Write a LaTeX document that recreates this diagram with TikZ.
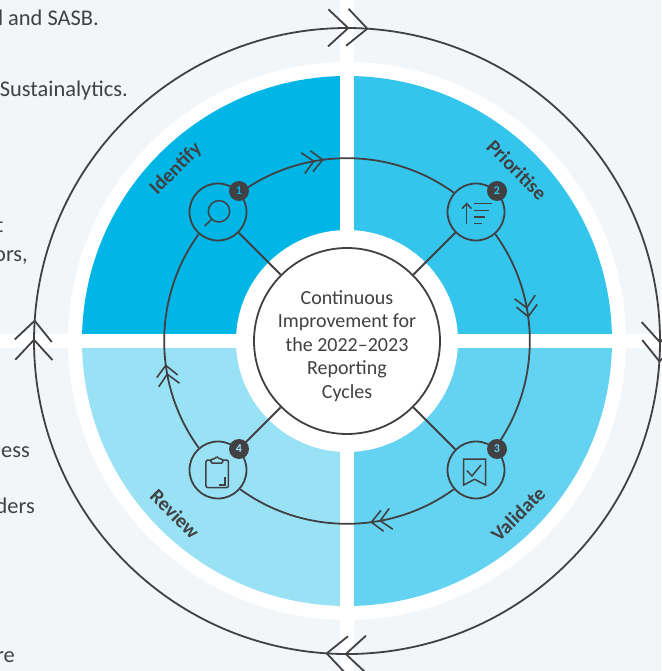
\documentclass[tikz,border=0pt]{standalone}
\usepackage{fontspec}
\setmainfont{Carlito}
\usetikzlibrary{arrows.meta,decorations.markings}

\definecolor{pagebg}{HTML}{F2F6F9}
\definecolor{inkgrey}{HTML}{414042}
\definecolor{identifyblue}{HTML}{00B6E6}
\definecolor{prioritiseblue}{HTML}{33C5EC}
\definecolor{validateblue}{HTML}{63D3F1}
\definecolor{reviewblue}{HTML}{99E2F6}

\tikzset{
  smallchevron/.tip={Straight Barb[length=11pt,width=21pt]},
  bigchevron/.tip={Straight Barb[length=20pt,width=37pt]},
  ringline/.style={draw=inkgrey,line width=1.8pt},
  iconline/.style={draw=inkgrey,line width=1.5pt},
  ringarrows/.style={postaction={decorate},decoration={markings,
      mark=at position 0.359 with {\arrow[inkgrey,line width=1.6pt]{smallchevron}},
      mark=at position 0.398 with {\arrow[inkgrey,line width=1.6pt]{smallchevron}}}},
  stagenode/.style={circle,ringline,minimum size=57pt,inner sep=0pt},
  badgenode/.style={circle,fill=inkgrey,minimum size=20pt,inner sep=0pt,font=\fontsize{12}{12}\selectfont\bfseries},
  stagelabel/.style={text=inkgrey,font=\fontsize{20}{20}\selectfont\bfseries},
  sidetext/.style={text=inkgrey,anchor=base east,inner sep=0pt,font=\fontsize{22.4}{22.4}\selectfont}
}

\begin{document}
\begin{tikzpicture}[x=1pt,y=1pt]

        \fill[pagebg] (-347,-330) rectangle (314,341);
        \useasboundingbox (-347,-330) rectangle (314,341);

        \fill[white] (0,0) circle (279);
        \fill[identifyblue]   (0,0) -- (-265,0) arc (180:90:265) -- cycle;
        \fill[prioritiseblue] (0,0) -- (0,265)  arc (90:0:265)   -- cycle;
        \fill[validateblue]   (0,0) -- (265,0)  arc (0:-90:265)  -- cycle;
        \fill[reviewblue]     (0,0) -- (0,-265) arc (-90:-180:265) -- cycle;
        \fill[white] (-7,-330) rectangle (7,341);
        \fill[white] (-347,-7) rectangle (314,7);
        \fill[white] (0,0) circle (111);

        \draw[ringline,decoration={markings,
            mark=at position 0.1263 with {\arrow[inkgrey,line width=1.8pt]{bigchevron}},
            mark=at position 0.1360 with {\arrow[inkgrey,line width=1.8pt]{bigchevron}},
            mark=at position 0.3763 with {\arrow[inkgrey,line width=1.8pt]{bigchevron}},
            mark=at position 0.3860 with {\arrow[inkgrey,line width=1.8pt]{bigchevron}},
            mark=at position 0.6263 with {\arrow[inkgrey,line width=1.8pt]{bigchevron}},
            mark=at position 0.6360 with {\arrow[inkgrey,line width=1.8pt]{bigchevron}},
            mark=at position 0.8763 with {\arrow[inkgrey,line width=1.8pt]{bigchevron}},
            mark=at position 0.8860 with {\arrow[inkgrey,line width=1.8pt]{bigchevron}}},
            postaction={decorate}] (-221.3,221.3) arc (135:-225:313);

        \node[circle,ringline,fill=white,minimum size=186pt,inner sep=0pt] (centre) at (0,0) {};
        \node[text=inkgrey,align=center,font=\fontsize{20}{23.6}\selectfont] (centretext) at (0,-5)
              {Continuous\\Improvement for\\the 2022–2023\\Reporting\\Cycles};

        \begin{scope}[every node/.style={stagenode}]
          \node (identify)   at (-129,129)  {};
          \node (prioritise) at (129,129)   {};
          \node (validate)   at (129,-129)  {};
          \node (review)     at (-129,-129) {};
        \end{scope}

        \begin{scope}[every path/.style={ringline}]
          \path (identify)   edge (centre);
          \path (prioritise) edge (centre);
          \path (validate)   edge (centre);
          \path (review)     edge (centre);
        \end{scope}

        \draw[ringline,ringarrows] (identify.41)    to[out=36,in=144,looseness=0.94]   (prioritise.139);
        \draw[ringline,ringarrows] (prioritise.-49) to[out=-54,in=54,looseness=0.94]   (validate.49);
        \draw[ringline,ringarrows] (validate.-139)  to[out=-144,in=-36,looseness=0.94] (review.-41);
        \draw[ringline,ringarrows] (review.131)     to[out=126,in=-126,looseness=0.94] (identify.-131);

        \node[badgenode,text=identifyblue]   (badge1) at (-108,150) {1};
        \node[badgenode,text=prioritiseblue] (badge2) at (150,150)  {2};
        \node[badgenode,text=validateblue]   (badge3) at (150,-108) {3};
        \node[badgenode,text=reviewblue]     (badge4) at (-108,-108) {4};

        \begin{scope}[shift={(identify)}]
          \draw[iconline] (1,0.7) circle (10.7);
          \draw[iconline] (-6.6,-7.6) -- (-13.3,-14);
        \end{scope}

        \begin{scope}[shift={(prioritise)}]
          \draw[iconline] (-9.3,-11.6) -- (-9.3,8.4);
          \draw[iconline] (-14,3.4) -- (-9.3,8.4) -- (-4.6,3.4);
          \draw[iconline] (-1.7,8.4)  -- (16,8.4);
          \draw[iconline] (-1.7,1.7)  -- (12.7,1.7);
          \draw[iconline] (-1.7,-5)   -- (9,-5);
          \draw[iconline] (-1.7,-11.3) -- (5.7,-11.3);
        \end{scope}

        \begin{scope}[shift={(validate)}]
          \draw[iconline] (-12.3,11) -- (9.6,11) -- (9.6,-15) -- (-1.4,-9.3) -- (-12.3,-15) -- cycle;
          \draw[iconline] (-9,-0.7) -- (-4,-6) -- (5,5);
        \end{scope}

        \begin{scope}[shift={(review)}]
          \draw[iconline,rounded corners=2pt] (-7.3,10) -- (-12,10) -- (-12,-17.7) -- (10.4,-17.7) -- (10.4,10) -- (5,10);
          \draw[iconline,rounded corners=1.5pt] (-7.3,7) -- (-7.3,11) -- (-3,11) -- (-1.2,14) -- (1,11) -- (5,11) -- (5,7) -- cycle;
          \draw[iconline] (1,-15) -- (7,-15) -- (7,-6.7);
        \end{scope}

        \node[stagelabel,rotate=45]  (identifylabel)   at (-171,172)  {Identify};
        \node[stagelabel,rotate=-45] (prioritiselabel) at (170,171)   {Prioritise};
        \node[stagelabel,rotate=45]  (validatelabel)   at (171,-173)  {Validate};
        \node[stagelabel,rotate=-45] (reviewlabel)     at (-172,-173) {Review};

        \node[sidetext] (side1) at (-248,315)   {l and SASB.};
        \node[sidetext] (side2) at (-219,244.3) {Sustainalytics.};
        \node[sidetext] (side3) at (-343.5,108.7) {t};
        \node[sidetext] (side4) at (-319,79.3)  {ors,};
        \node[sidetext] (side5) at (-317,-116)  {ess};
        \node[sidetext] (side6) at (-312,-172)  {ders};
        \node[sidetext] (side7) at (-332,-321)  {re};

      \end{tikzpicture}
\end{document}
